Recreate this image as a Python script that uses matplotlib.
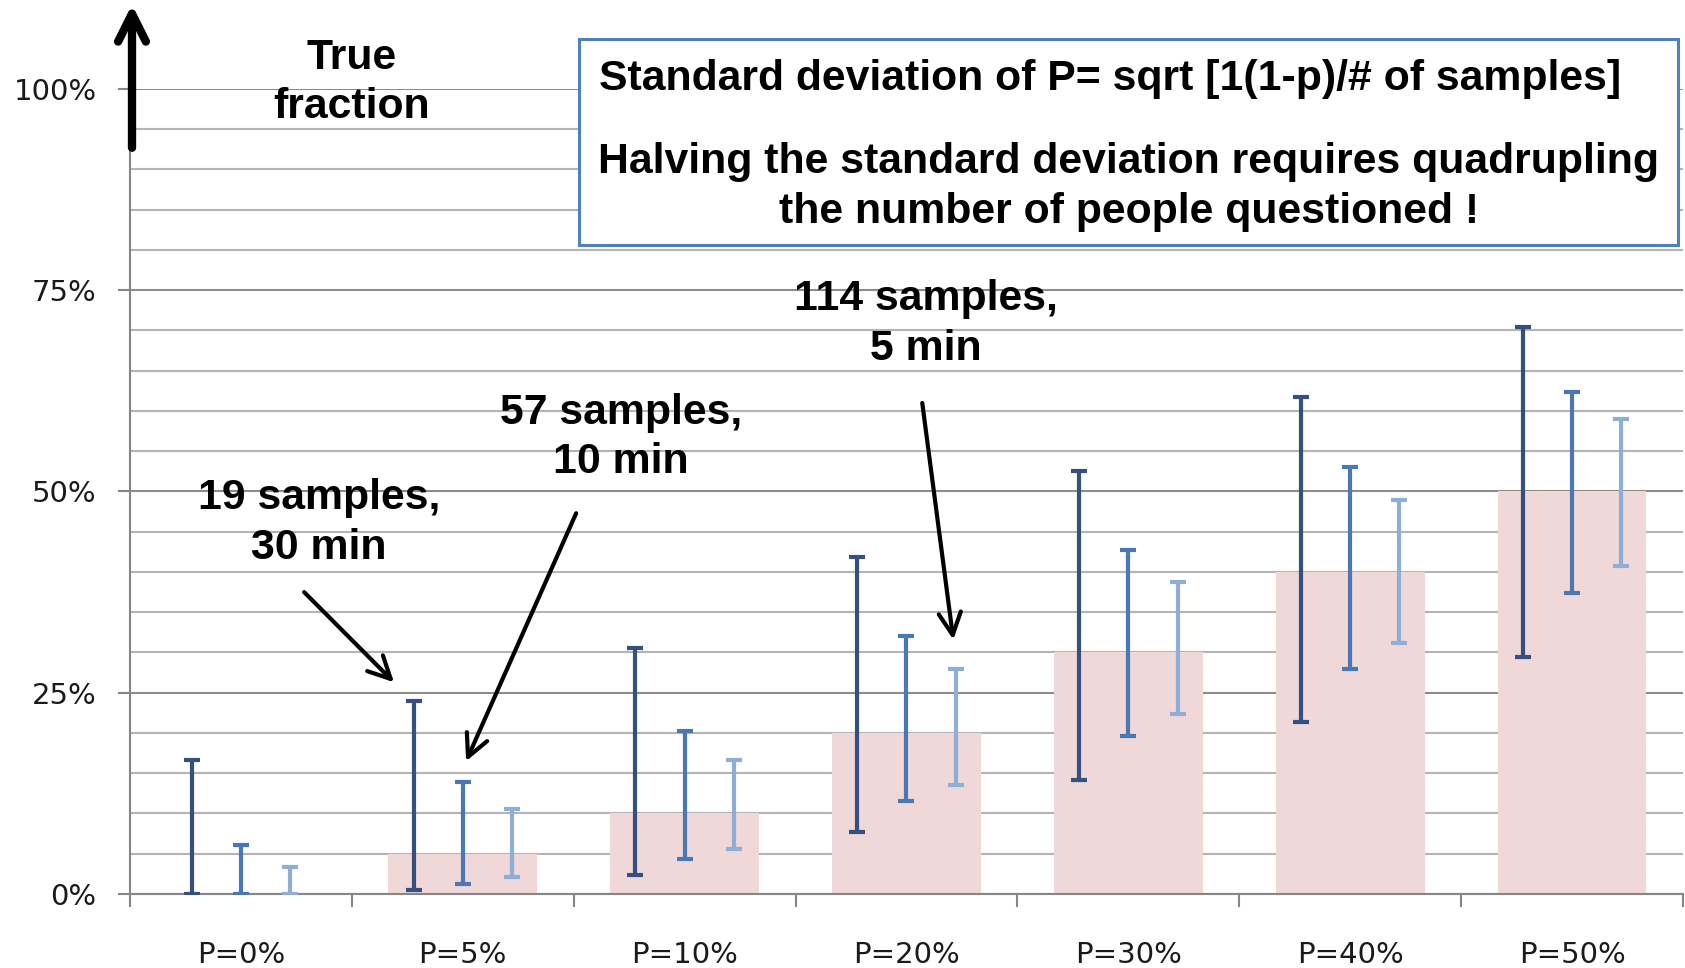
import matplotlib
matplotlib.use("Agg")
import matplotlib.pyplot as plt
from matplotlib.patches import Rectangle
import numpy as np

# ---- data ----
categories = ["P=0%", "P=5%", "P=10%", "P=20%", "P=30%", "P=40%", "P=50%"]
true_fraction = [0, 5, 10, 20, 30, 40, 50]

# 19 samples (30 min)
lo_19 = [0.0, 0.5, 2.4, 7.7, 14.2, 21.4, 29.4]
hi_19 = [16.7, 24.0, 30.6, 41.9, 52.5, 61.7, 70.4]
# 57 samples (10 min)
lo_57 = [0.0, 1.3, 4.4, 11.6, 19.6, 28.0, 37.4]
hi_57 = [6.1, 13.9, 20.3, 32.0, 42.7, 53.0, 62.3]
# 114 samples (5 min)
lo_114 = [0.0, 2.1, 5.6, 13.6, 22.3, 31.2, 40.7]
hi_114 = [3.3, 10.5, 16.6, 28.0, 38.7, 49.0, 59.0]

ytick_vals = [0, 25, 50, 75, 100]
ytick_labels = ["0%", "25%", "50%", "75%", "100%"]

# ---- figure ----
fig = plt.figure(figsize=(16.85, 9.68), dpi=100)
ax = fig.add_axes([0.07715, 0.07645, 0.92166, 0.83161])

x = np.arange(len(categories))
ax.bar(x, true_fraction, width=0.67, color="#F0D8D8", zorder=2)

series = [
    (lo_19, hi_19, -0.222, "#34507F"),
    (lo_57, hi_57, 0.0, "#4A78B5"),
    (lo_114, hi_114, 0.222, "#8FAED6"),
]
for lo, hi, off, col in series:
    lo = np.array(lo); hi = np.array(hi); p = np.array(true_fraction, float)
    ax.errorbar(x + off, p, yerr=[p - lo, hi - p], fmt="none", ecolor=col,
                elinewidth=3, capsize=6, capthick=3, zorder=3)

ax.set_xlim(-0.5, len(categories) - 0.5)
ax.set_ylim(0, 100)

ax.set_yticks(ytick_vals)
ax.set_yticklabels(ytick_labels, fontsize=21, color="#1a1a1a", family="DejaVu Sans")
ax.set_yticks(np.arange(0, 101, 5), minor=True)
ax.tick_params(axis="y", which="major", length=9, width=1.5, color="#868686", pad=15)
ax.tick_params(axis="y", which="minor", length=0)

ax.set_xticks(x)
ax.set_xticklabels(categories, fontsize=21, color="#1a1a1a", family="DejaVu Sans")
ax.set_xticks(np.arange(-0.5, len(categories), 1.0), minor=True)
ax.tick_params(axis="x", which="major", length=0, pad=34)
ax.tick_params(axis="x", which="minor", length=9, width=1.5, color="#868686")

ax.grid(axis="y", which="minor", color="#B4B4B4", linewidth=1.5, zorder=0)
ax.grid(axis="y", which="major", color="#8C8C8C", linewidth=1.5, zorder=0)
ax.set_axisbelow(True)

for s in ["top", "right"]:
    ax.spines[s].set_visible(False)
ax.spines["left"].set_color("#868686")
ax.spines["bottom"].set_color("#868686")
ax.spines["left"].set_linewidth(1.5)
ax.spines["bottom"].set_linewidth(1.5)

FS = 30.8
bold = dict(fontsize=FS, fontweight="bold", family="Liberation Sans", color="black",
            ha="center", va="center", linespacing=1.3)

ax.text(0.50, 100.8, "True\nfraction", clip_on=False, **bold)
ax.text(0.352, 46.1, "19 samples,\n30 min", **bold)
ax.text(1.714, 56.7, "57 samples,\n10 min", **bold)
ax.text(3.089, 70.8, "114 samples,\n5 min", **bold)

arrow = dict(arrowstyle="->", color="black", lw=3, mutation_scale=40, shrinkA=0, shrinkB=0)
ax.annotate("", xy=(0.690, 26.3), xytext=(0.285, 37.5), arrowprops=arrow)
ax.annotate("", xy=(1.015, 16.5), xytext=(1.511, 47.3), arrowprops=arrow)
ax.annotate("", xy=(3.211, 31.6), xytext=(3.071, 61.0), arrowprops=arrow)
ax.annotate("", xy=(-0.491, 110.5), xytext=(-0.491, 92.7), annotation_clip=False,
            arrowprops=dict(arrowstyle="->", color="black", lw=6, mutation_scale=50,
                            shrinkA=0, shrinkB=0))

# text box
ax.add_patch(Rectangle((0.289, 0.806), 0.708, 0.256, transform=ax.transAxes,
                       facecolor="white", edgecolor="#4F81BD", linewidth=2.2,
                       clip_on=False, zorder=5))
ax.text(0.302, 1.013, "Standard deviation of P= sqrt [1(1-p)/# of samples]",
        transform=ax.transAxes, fontsize=FS, fontweight="bold", family="Liberation Sans",
        ha="left", va="center", zorder=6)
ax.text(0.643, 0.878, "Halving the standard deviation requires quadrupling\nthe number of people questioned !",
        transform=ax.transAxes, fontsize=FS, fontweight="bold", family="Liberation Sans",
        ha="center", va="center", linespacing=1.34, zorder=6)

fig.savefig("out.png", dpi=100)
